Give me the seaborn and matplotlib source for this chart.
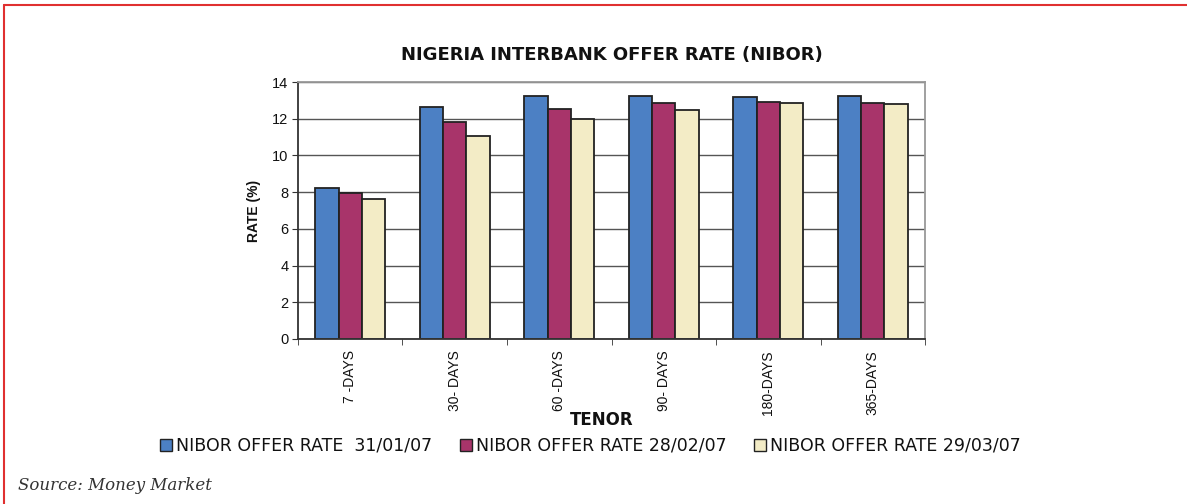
import pandas as pd
import seaborn as sns
import matplotlib.pyplot as plt
import numpy as np
from matplotlib.lines import Line2D

tenors = ['7 -DAYS', '30- DAYS', '60 -DAYS', '90- DAYS', '180-DAYS', '365-DAYS']
series = ['NIBOR OFFER RATE  31/01/07', 'NIBOR OFFER RATE 28/02/07', 'NIBOR OFFER RATE 29/03/07']
rate_jan = [8.21, 12.65, 13.23, 13.23, 13.16, 13.25]
rate_feb = [7.93, 11.82, 12.53, 12.84, 12.89, 12.84]
rate_mar = [7.62, 11.04, 12.00, 12.45, 12.84, 12.78]
colors = ['#4C80C4', '#A8346A', '#F3ECC6']

df = pd.DataFrame({
    'tenor': tenors * 3,
    'series': np.repeat(series, len(tenors)),
    'rate': rate_jan + rate_feb + rate_mar,
})

sns.set_style('white')
plt.rcParams['font.family'] = ['Liberation Sans', 'DejaVu Sans']
plt.rcParams['text.color'] = '#111111'

fig = plt.figure(figsize=(11.87, 5.04), dpi=100)
ax = fig.add_axes([298 / 1187, 1 - 339 / 504, 627 / 1187, 257 / 504])

sns.barplot(data=df, x='tenor', y='rate', hue='series', palette=colors, saturation=1,
            width=0.67, edgecolor='#222222', linewidth=1.3, ax=ax, legend=False)

ax.set_ylim(0, 14)
ax.set_xlim(-0.5, 5.5)
ax.set_yticks(range(0, 15, 2))
ax.yaxis.grid(True, color='#555555', linewidth=1.0)
ax.set_axisbelow(True)
ax.tick_params(axis='y', labelsize=10.5, length=4, color='#333333', left=True, pad=3,
               labelcolor='#111111')
ax.tick_params(axis='x', which='major', length=0, labelsize=10, labelrotation=90, pad=8,
               labelcolor='#111111')
ax.set_xticks(np.arange(-0.5, 6, 1), minor=True)
ax.tick_params(axis='x', which='minor', length=4, color='#333333', bottom=True)

for side in ['top', 'right']:
    ax.spines[side].set_color('#999999')
    ax.spines[side].set_linewidth(1.3)
for side in ['left', 'bottom']:
    ax.spines[side].set_color('#333333')
    ax.spines[side].set_linewidth(1.3)

ax.set_ylabel('RATE (%)', fontsize=10, fontweight='bold', labelpad=8, color='#111111')
ax.set_xlabel('TENOR', fontsize=12, fontweight='bold', family='DejaVu Sans', color='#111111')
ax.xaxis.label.set_va('center')
ax.xaxis.set_label_coords(0.485, -81 / 257)

fig.text(612 / 1187, 1 - 55 / 504, 'NIGERIA INTERBANK OFFER RATE (NIBOR)',
         ha='center', va='center', fontsize=13, fontweight='bold', family='DejaVu Sans')

handles = [Line2D([0], [0], marker='s', linestyle='none', markersize=8,
                  markerfacecolor=c, markeredgecolor='#222222') for c in colors]
fig.legend(handles, series, loc='center', bbox_to_anchor=(589 / 1187, 1 - 446 / 504),
           ncol=3, frameon=False, prop={'family': 'DejaVu Sans', 'size': 12.5},
           handletextpad=0.1, columnspacing=1.4, handlelength=1.0)

fig.text(18 / 1187, 1 - 485 / 504, 'Source: Money Market', ha='left', va='center',
         fontsize=12, style='italic', family='DejaVu Serif', color='#333333')

# red frame lines (top and left)
fig.add_artist(Line2D([4 / 1187, 1], [1 - 5 / 504, 1 - 5 / 504], color='#E03030', linewidth=1.5))
fig.add_artist(Line2D([4 / 1187, 4 / 1187], [0, 1 - 5 / 504], color='#E03030', linewidth=1.5))

fig.savefig('out.png', dpi=100)
